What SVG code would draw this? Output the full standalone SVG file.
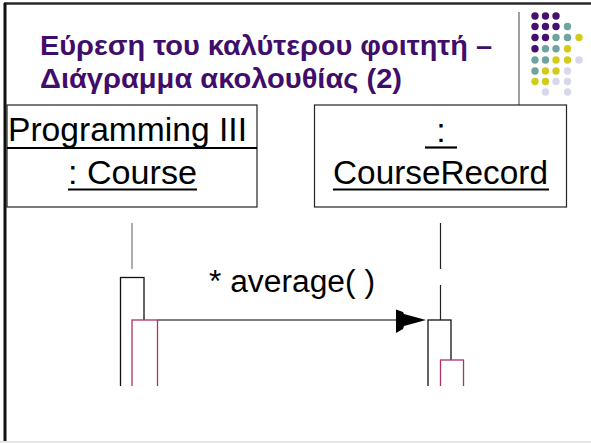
<svg xmlns="http://www.w3.org/2000/svg" width="591" height="443" viewBox="0 0 591 443">
  <style>
    .title { font-family: "Liberation Sans", Arial, sans-serif; font-weight: bold; font-size: 27px; fill: #3f0d6a; }
    .obj { font-family: "Liberation Sans", Arial, sans-serif; font-size: 34px; fill: #000; }
    .msg { font-family: "Liberation Sans", Arial, sans-serif; font-size: 31px; fill: #000; }
    .box { fill: #fff; stroke: #222; stroke-width: 1.2; }
    .uline { stroke: #000; stroke-width: 2.2; }
    .act { fill: #fff; stroke: #111; stroke-width: 1.3; }
    .act2 { fill: #fff; stroke: #b0306a; stroke-width: 1.3; }
    .p { fill: #470f6e; } .t { fill: #6fa3a0; } .y { fill: #d2cb1c; } .l { fill: #d8d8ec; }
  </style>

  <!-- slide frame -->
  <rect x="0" y="0" width="591" height="443" fill="#fff"/>
  <line x1="4" y1="3.5" x2="591" y2="3.5" stroke="#2a2a2a" stroke-width="2.5"/>
  <line x1="5" y1="3" x2="5" y2="441" stroke="#111" stroke-width="3"/>
  <line x1="0" y1="442" x2="591" y2="442" stroke="#e6e6e6" stroke-width="2"/>

  <!-- title -->
  <g id="title">
    <text class="title" x="40" y="55" textLength="452" lengthAdjust="spacingAndGlyphs">Εύρεση του καλύτερου φοιτητή –</text>
    <text class="title" x="40" y="88" textLength="362" lengthAdjust="spacingAndGlyphs">Διάγραμμα ακολουθίας (2)</text>
  </g>

  <!-- decoration: divider and dot grid -->
  <g id="decor">
    <line x1="519" y1="12" x2="519" y2="112" stroke="#888" stroke-width="1.6"/>
    <g>
      <circle class="p" cx="535" cy="16" r="3.7"/><circle class="p" cx="545.5" cy="16" r="3.7"/><circle class="p" cx="556" cy="16" r="3.7"/>
      <circle class="p" cx="535" cy="26.5" r="3.7"/><circle class="p" cx="545.5" cy="26.5" r="3.7"/><circle class="p" cx="556" cy="26.5" r="3.7"/><circle class="t" cx="567.5" cy="26.5" r="3.7"/>
      <circle class="p" cx="535" cy="37.5" r="3.7"/><circle class="p" cx="545.5" cy="37.5" r="3.7"/><circle class="t" cx="556" cy="37.5" r="3.7"/><circle class="t" cx="567.5" cy="37.5" r="3.7"/><circle class="y" cx="579" cy="37.5" r="3.7"/>
      <circle class="p" cx="535" cy="48.7" r="3.7"/><circle class="t" cx="545.5" cy="48.7" r="3.7"/><circle class="t" cx="556" cy="48.7" r="3.7"/><circle class="y" cx="567.5" cy="48.7" r="3.7"/>
      <circle class="t" cx="535" cy="60" r="3.7"/><circle class="t" cx="545.5" cy="60" r="3.7"/><circle class="y" cx="556" cy="60" r="3.7"/><circle class="y" cx="567.5" cy="60" r="3.7"/><circle class="l" cx="579" cy="60" r="3.7"/>
      <circle class="t" cx="535" cy="71" r="3.7"/><circle class="y" cx="545.5" cy="71" r="3.7"/><circle class="y" cx="556" cy="71" r="3.7"/><circle class="l" cx="567.5" cy="71" r="3.7"/>
      <circle class="y" cx="535" cy="81.5" r="3.7"/><circle class="y" cx="545.5" cy="81.5" r="3.7"/><circle class="l" cx="556" cy="81.5" r="3.7"/><circle class="l" cx="567.5" cy="81.5" r="3.7"/>
      <circle class="l" cx="545.5" cy="92" r="3.7"/><circle class="l" cx="567.5" cy="92" r="3.7"/>
    </g>
  </g>

  <!-- object: Programming III : Course -->
  <g id="course">
    <rect class="box" x="7" y="105" width="250" height="102"/>
    <text class="obj" x="8" y="141" textLength="239" lengthAdjust="spacingAndGlyphs">Programming III</text>
    <line class="uline" x1="7" y1="148" x2="257" y2="148"/>
    <text class="obj" x="68" y="184" textLength="129" lengthAdjust="spacingAndGlyphs">: Course</text>
    <line class="uline" x1="68" y1="189.5" x2="197" y2="189.5"/>
  </g>

  <!-- object: : CourseRecord -->
  <g id="courseRecord">
    <rect class="box" x="314.5" y="105" width="252" height="102"/>
    <text class="obj" x="441" y="142" text-anchor="middle">:</text>
    <line class="uline" x1="425" y1="147.5" x2="457" y2="147.5"/>
    <text class="obj" x="333" y="184" textLength="215" lengthAdjust="spacingAndGlyphs">CourseRecord</text>
    <line class="uline" x1="333" y1="189.5" x2="549" y2="189.5"/>
  </g>

  <!-- lifelines and activations -->
  <g id="connectors">
    <line x1="132" y1="223" x2="132" y2="269" stroke="#777" stroke-width="1.2"/>
    <line x1="440.5" y1="223" x2="440.5" y2="320" stroke="#222" stroke-width="1.2" stroke-dasharray="46 16"/>

    <rect class="act" x="120.5" y="277.5" width="23.5" height="120"/>
    <rect class="act2" x="132" y="320" width="25.5" height="80"/>
    <rect class="act" x="428" y="320" width="23" height="80"/>
    <rect class="act2" x="440.5" y="360" width="23" height="40"/>

    <!-- message: * average( ) -->
    <line x1="157.5" y1="320" x2="397" y2="320" stroke="#555" stroke-width="1.3"/>
    <polygon points="396,309.5 396,333 403,329 404,326 426,320 404,314 403,312" fill="#000"/>
    <text class="msg" x="209" y="292" textLength="166" lengthAdjust="spacingAndGlyphs">* average( )</text>

    <!-- lower clip -->
    <rect x="7" y="386" width="580" height="54" fill="#fff"/>
  </g>
</svg>
